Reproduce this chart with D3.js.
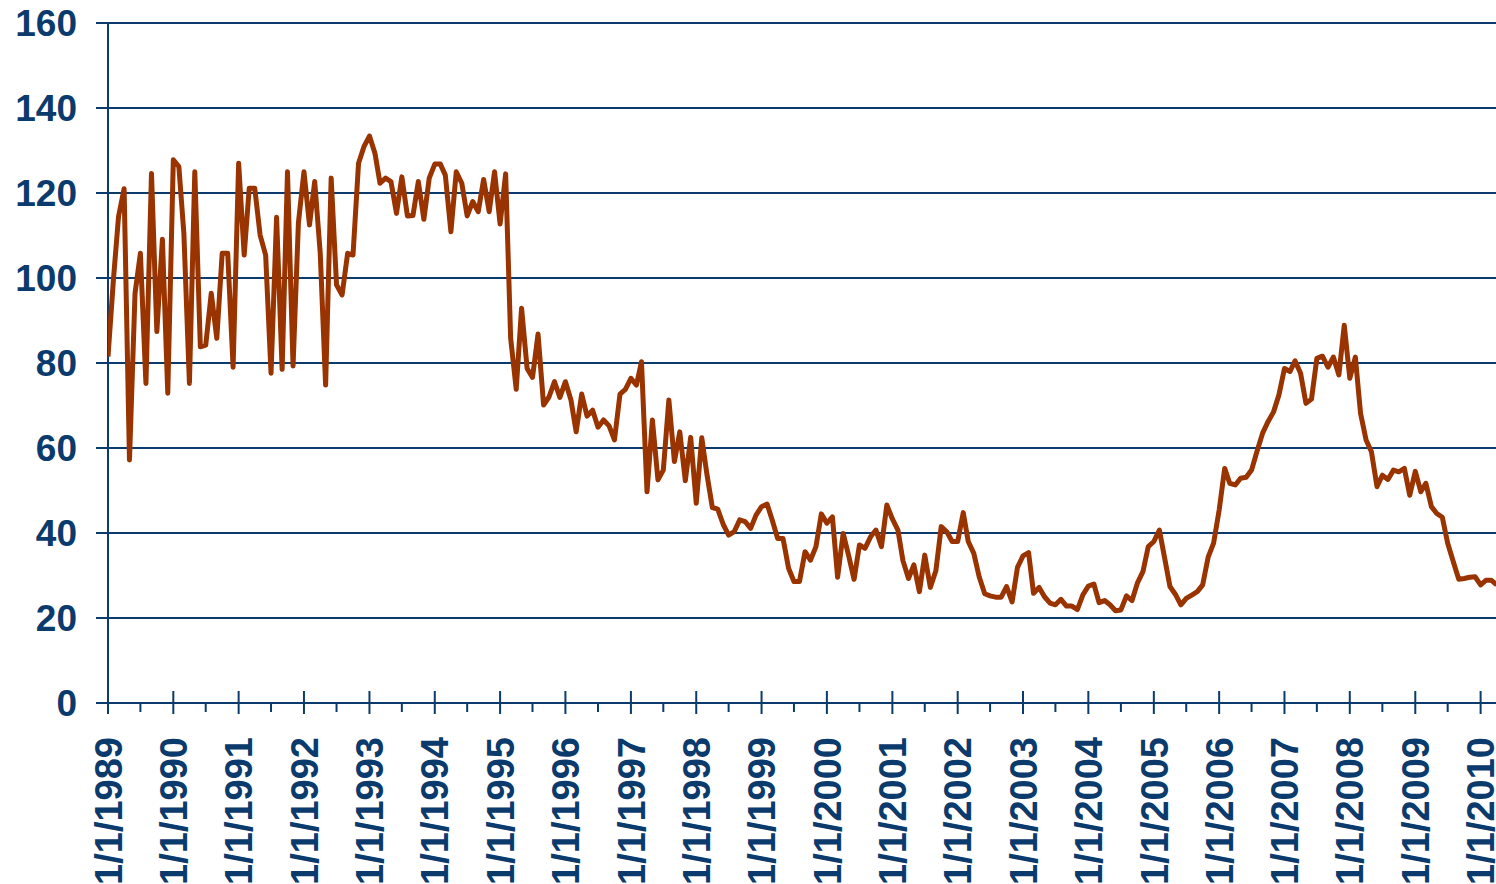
<!DOCTYPE html>
<html>
<head>
<meta charset="utf-8">
<script src="https://cdn.jsdelivr.net/npm/d3@7"></script>
<style>
  html, body { margin: 0; padding: 0; background: #ffffff; }
  svg { display: block; }
  text { font-family: "Liberation Sans", Arial, sans-serif; font-weight: bold; fill: #0b3a6c; }
</style>
</head>
<body>
<svg id="chart" width="1496" height="884"></svg>
<script>
// Monthly series starting January 1989 (one row per year)
const startYear = 1989;
const values = [
  81.5, 100, 114.5, 121, 57.2, 96.4, 105.8, 75.2, 124.6, 87.4, 109.1, 72.9,        // 1989
  127.8, 126.2, 110.5, 75.2, 125, 83.8, 84.2, 96.4, 85.8, 105.8, 105.8, 79,         // 1990
  127, 105.4, 121.1, 121.1, 110.1, 105.4, 77.6, 114.3, 78.5, 125, 79.3, 113,        // 1991
  125, 112.5, 122.7, 105.8, 74.8, 123.5, 98.4, 96, 105.8, 105.4, 127, 130.9,        // 1992
  133.4, 129.3, 122.3, 123.5, 122.7, 115.2, 123.8, 114.6, 114.7, 122.7, 113.8, 123.5, // 1993
  126.8, 126.8, 124.2, 110.9, 125, 122.3, 114.6, 118, 115.6, 123.2, 115.6, 125,     // 1994
  112.7, 124.5, 85.8, 73.8, 92.9, 78.7, 76.6, 86.8, 70.1, 72, 75.6, 71.9,           // 1995
  75.6, 71.3, 63.8, 72.7, 67.5, 68.9, 64.9, 66.6, 65.2, 61.9, 72.7, 73.8,           // 1996
  76.4, 74.8, 80.3, 49.7, 66.6, 52.5, 54.8, 71.3, 56.8, 63.8, 52.3, 62.5,           // 1997
  47, 62.4, 54, 46, 45.6, 42, 39.5, 40.3, 43.1, 42.7, 41.1, 44.2,                   // 1998
  46.2, 46.8, 43.1, 38.7, 38.7, 31.7, 28.6, 28.6, 35.6, 33.6, 36.8, 44.5,           // 1999
  42.3, 43.8, 29.6, 39.9, 34.8, 29.1, 37.2, 36.4, 39.1, 40.7, 36.8, 46.6,           // 2000
  43.3, 40.7, 33.5, 29.3, 32.5, 26.2, 34.8, 27.2, 31.1, 41.5, 40.3, 38,             // 2001
  38, 44.8, 38, 35.2, 29.7, 25.7, 25.2, 24.9, 24.9, 27.4, 23.8, 31.9,               // 2002
  34.6, 35.4, 25.8, 27.2, 25, 23.5, 23.1, 24.4, 22.8, 22.8, 22, 25.4,               // 2003
  27.5, 28, 23.6, 24.1, 23.1, 21.7, 21.9, 25.2, 24.1, 28.2, 30.9, 36.8,             // 2004
  38, 40.7, 34.4, 27.4, 25.6, 23.1, 24.6, 25.4, 26.2, 27.8, 34.4, 37.6,             // 2005
  45.4, 55.2, 51.7, 51.3, 52.9, 53.1, 54.8, 59.3, 63.5, 66.2, 68.5, 72.5,           // 2006
  78.7, 78, 80.5, 77.6, 70.5, 71.5, 81.1, 81.6, 79, 81.4, 77.2, 88.9,               // 2007
  76.4, 81.4, 68.2, 61.9, 59.1, 50.9, 53.6, 52.6, 54.8, 54.4, 55.2, 48.9,           // 2008
  54.5, 49.7, 51.7, 46.2, 44.6, 43.7, 37.6, 33.3, 29.1, 29.3, 29.6, 29.7,           // 2009
  27.8, 28.9, 28.9, 27.8                                                            // 2010
];
const yTicks = [0, 20, 40, 60, 80, 100, 120, 140, 160];
const tickYears = d3.range(1989, 2011);
const tickLabels = tickYears.map(yr => "1/1/" + yr);

const data = values.map((v, i) => ({ date: new Date(startYear, i, 1), value: v }));

const svg = d3.select("#chart");
const plotLeft = 108, plotRight = 1496, plotTop = 23, plotBottom = 703;
const navy = "#0b3a6c";

const x = d3.scaleTime()
  .domain([new Date(1989, 0, 1), new Date(2010, 2, 28)])
  .range([plotLeft, plotRight]);
const y = d3.scaleLinear().domain([0, 160]).range([plotBottom, plotTop]);

// horizontal gridlines (extend left of axis as ticks)
svg.append("g")
  .selectAll("line")
  .data(yTicks.filter(d => d > 0))
  .join("line")
  .attr("x1", plotLeft - 12).attr("x2", plotRight)
  .attr("y1", d => y(d)).attr("y2", d => y(d))
  .attr("stroke", navy).attr("stroke-width", 2);

// y tick labels
svg.append("g")
  .selectAll("text")
  .data(yTicks)
  .join("text")
  .attr("x", 77)
  .attr("y", d => y(d))
  .attr("dy", "0.36em")
  .attr("text-anchor", "end")
  .attr("font-size", 37)
  .text(d => d);

// y axis line
svg.append("line")
  .attr("x1", plotLeft).attr("x2", plotLeft)
  .attr("y1", plotTop).attr("y2", plotBottom + 11)
  .attr("stroke", navy).attr("stroke-width", 2);

// x axis line
svg.append("line")
  .attr("x1", plotLeft - 12).attr("x2", plotRight)
  .attr("y1", plotBottom).attr("y2", plotBottom)
  .attr("stroke", navy).attr("stroke-width", 2);

// major ticks at Jan 1
const majorDates = tickYears.map(yr => new Date(yr, 0, 1));
svg.append("g")
  .selectAll("line")
  .data(majorDates)
  .join("line")
  .attr("x1", d => x(d)).attr("x2", d => x(d))
  .attr("y1", plotBottom - 12).attr("y2", plotBottom + 11)
  .attr("stroke", navy).attr("stroke-width", 2);

// minor ticks at Jul 1
const minorDates = d3.range(1989, 2010).map(yr => new Date(yr, 6, 1));
svg.append("g")
  .selectAll("line")
  .data(minorDates)
  .join("line")
  .attr("x1", d => x(d)).attr("x2", d => x(d))
  .attr("y1", plotBottom).attr("y2", plotBottom + 9)
  .attr("stroke", navy).attr("stroke-width", 2);

// x labels rotated
svg.append("g")
  .selectAll("text")
  .data(majorDates)
  .join("text")
  .attr("transform", d => `translate(${x(d)},737) rotate(-90)`)
  .attr("text-anchor", "end")
  .attr("dy", "0.36em")
  .attr("font-size", 38)
  .text((d, i) => tickLabels[i]);

// clip path
svg.append("clipPath").attr("id", "clip")
  .append("rect").attr("x", plotLeft).attr("y", 0).attr("width", plotRight - plotLeft).attr("height", 884);

const line = d3.line()
  .x(d => x(d.date))
  .y(d => y(d.value));

svg.append("path")
  .datum(data)
  .attr("clip-path", "url(#clip)")
  .attr("fill", "none")
  .attr("stroke", "#993300")
  .attr("stroke-width", 5)
  .attr("stroke-linejoin", "round")
  .attr("d", line);
</script>
</body>
</html>
